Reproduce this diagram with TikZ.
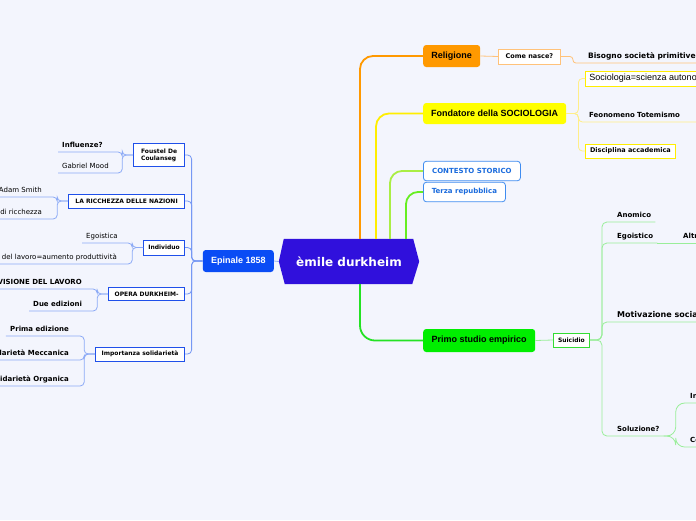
\documentclass[tikz,border=0pt]{standalone}
\usepackage{fontspec}
\setmainfont{Liberation Sans}
\newfontfamily\vfont{DejaVu Sans}
\usetikzlibrary{backgrounds}
\definecolor{bgpage}{HTML}{F3F5FD}
\definecolor{corefill}{HTML}{3010DC}
\definecolor{epiblue}{HTML}{0A4CF5}
\definecolor{boxblue}{HTML}{1F50EA}
\definecolor{lineblue}{HTML}{8CAAF6}
\definecolor{relorange}{HTML}{FF9900}
\definecolor{lineorange}{HTML}{FFC27A}
\definecolor{fondyellow}{HTML}{FFFF00}
\definecolor{trunkyellow}{HTML}{FFEE00}
\definecolor{lineyellow}{HTML}{FFEE88}
\definecolor{ctxblue}{HTML}{3F8CF0}
\definecolor{ctxtext}{HTML}{1A6BDD}
\definecolor{limegreen}{HTML}{AAEE44}
\definecolor{trunkgreen}{HTML}{66EE22}
\definecolor{primogreen}{HTML}{00EE00}
\definecolor{suigreen}{HTML}{33DD33}
\definecolor{linegreen}{HTML}{99EE99}

\begin{document}
\begin{tikzpicture}[x=1pt,y=-1pt,
  corenode/.style={minimum width=140pt,minimum height=45pt,inner sep=0pt,
    text=white,font=\vfont\bfseries\fontsize{12}{14}\selectfont},
  topic/.style={rounded corners=3pt,inner sep=2pt,font=\bfseries\fontsize{9}{10}\selectfont},
  leftbox/.style={draw=boxblue,fill=white,line width=0.8pt,inner sep=2pt,
    font=\vfont\bfseries\fontsize{6}{7}\selectfont},
  ctxbox/.style={draw=ctxblue,fill=white,rounded corners=3pt,line width=0.8pt,inner xsep=8pt,
    text=ctxtext,font=\vfont\bfseries\fontsize{7}{8}\selectfont},
  leafb/.style={inner xsep=4pt,inner ysep=2.5pt,text depth=1.5pt,
    font=\vfont\bfseries\fontsize{7}{8}\selectfont},
  leafr/.style={inner xsep=4pt,inner ysep=2.5pt,text depth=1.5pt,
    font=\vfont\fontsize{7}{8}\selectfont},
  blueline/.style={draw=lineblue,line width=0.8pt,rounded corners=4pt},
  yelline/.style={draw=lineyellow,line width=0.8pt,rounded corners=4pt},
  greenline/.style={draw=linegreen,line width=0.8pt,rounded corners=5pt},
  trunk/.style={line width=1.8pt,rounded corners=13pt}]
\useasboundingbox (0,0) rectangle (696,520);
\clip (0,0) rectangle (696,520);

% centre
\node[corenode] (durk) at (349,261.5) {èmile durkheim};
\node[topic,fill=epiblue,text=white,anchor=east,minimum width=71pt,minimum height=22pt] (epi) at (274,261) {Epinale 1858};

% left boxes
\node[leftbox,anchor=east,minimum width=51pt,minimum height=23pt,align=left] (fous) at (185,155) {Foustel De\\Coulanseg};
\node[leftbox,anchor=east,minimum width=116pt,minimum height=14pt] (ricc) at (185,201) {LA RICCHEZZA DELLE NAZIONI};
\node[leftbox,anchor=east,minimum width=41pt,minimum height=15pt] (indiv) at (185,247.5) {Individuo};
\node[leftbox,anchor=east,minimum width=76pt,minimum height=13pt] (opera) at (185,294) {OPERA DURKHEIM-};
\node[leftbox,anchor=east,minimum width=89pt,minimum height=14pt] (impo) at (185,354) {Importanza solidarietà};

% left leaves
\node[leafb,anchor=south west] (infl) at (58,152) {Influenze?};
\node[leafr,anchor=south west] (gabr) at (58,173) {Gabriel Mood};
\node[leafr,anchor=south east] (adam) at (46,197) {Adam Smith};
\node[leafr,anchor=south east] (ricz) at (46,219) {Fonte di ricchezza};
\node[leafr,anchor=south west] (egst) at (82,243) {Egoistica};
\node[leafr,anchor=south east] (prod) at (121,264) {Divisione del lavoro=aumento produttività};
\node[leafb,anchor=south east] (divl) at (86,289) {LA DIVISIONE DEL LAVORO};
\node[leafb,anchor=south west] (duee) at (29,311) {Due edizioni};
\node[leafb,anchor=south east] (prim) at (73,336) {Prima edizione};
\node[leafb,anchor=south east] (mecc) at (73,360) {Solidarietà Meccanica};
\node[leafb,anchor=south east] (orga) at (73,386) {Solidarietà Organica};

% right topics
\node[topic,fill=relorange,anchor=west,minimum width=57pt,minimum height=22pt] (relig) at (423,56) {Religione};
\node[draw=lineorange,fill=white,line width=0.9pt,anchor=west,minimum width=62pt,minimum height=15pt,inner sep=2pt,
  font=\vfont\bfseries\fontsize{6.5}{7}\selectfont] (come) at (498,56.5) {Come nasce?};
\node[leafb,font=\vfont\bfseries\fontsize{7.5}{9}\selectfont,anchor=south west] (biso) at (584,63) {Bisogno società primitive};
\node[topic,fill=fondyellow,anchor=west,minimum width=143pt,minimum height=21pt] (fond) at (423,113.5) {Fondatore della SOCIOLOGIA};
\node[draw=trunkyellow,fill=white,line width=0.9pt,anchor=west,minimum height=15pt,inner xsep=4pt,inner ysep=1pt,
  font=\fontsize{9}{10}\selectfont] (socio) at (585,78.5) {Sociologia=scienza autonoma};
\node[leafb,anchor=south west,text width=103pt,align=left] (totem) at (585,122) {Feonomeno Totemismo};
\node[draw=trunkyellow,fill=white,line width=0.9pt,anchor=west,minimum width=90pt,minimum height=14pt,inner sep=2pt,
  font=\vfont\bfseries\fontsize{6.5}{7}\selectfont] (disc) at (585,151) {Disciplina accademica};
\node[ctxbox,anchor=west,minimum width=97pt,minimum height=19.5pt] (cont) at (423,171) {CONTESTO STORICO};
\node[ctxbox,anchor=west,minimum width=82pt,minimum height=19.5pt] (terza) at (423,192) {Terza repubblica};
\node[topic,fill=primogreen,anchor=west,minimum width=112pt,minimum height=23pt] (primo) at (423,340.5) {Primo studio empirico};
\node[draw=suigreen,fill=white,line width=0.9pt,anchor=west,minimum width=36pt,minimum height=14pt,inner sep=2pt,
  font=\vfont\bfseries\fontsize{6}{7}\selectfont] (suic) at (553,340) {Suicidio};

% suicidio leaves
\node[leafb,anchor=south west] (anom) at (613,222) {Anomico};
\node[leafb,anchor=south west] (egoi) at (613,243) {Egoistico};
\node[leafb,anchor=south west] (altr) at (679,243) {Altruistico};
\node[leafb,font=\vfont\bfseries\fontsize{8}{9}\selectfont,anchor=south west,text width=90pt,align=left] (moti) at (613,322) {Motivazione sociale};
\node[leafb,anchor=south west] (solu) at (613,436) {Soluzione?};
\node[leafb,anchor=south west] (inte) at (686,403) {Integrazione};
\node[leafb,anchor=south west] (coes) at (686,447) {Coesione};

\begin{scope}[on background layer]
\fill[bgpage] (0,0) rectangle (696,520);
\fill[corefill] ([xshift=5pt]durk.north west) -- (durk.west) -- ([xshift=6pt]durk.south west)
  -- ([xshift=-7pt]durk.south east) -- (durk.east) -- ([xshift=-6pt]durk.north east) -- cycle;
\end{scope}

% left side
\draw[draw=lineblue,line width=0.8pt] (epi.east) -- (durk.west);
\foreach \c in {fous,ricc,indiv,opera,impo}
  \draw[blueline,draw=lineblue!80!boxblue] (epi.west) -- ++(-11,0) |- (\c.east);
\foreach \p/\c in {fous/infl,fous/gabr,ricc/adam,ricc/ricz,indiv/egst,indiv/prod,
  opera/divl,opera/duee,impo/prim,impo/mecc,impo/orga}
  \draw[blueline] (\p.west) -- ++(-11,0) |- (\c.south west);

% right trunks
\draw[trunk,relorange] ([xshift=11pt]durk.north) |- (relig.west);
\draw[trunk,trunkyellow] ([xshift=27pt]durk.north) |- (fond.west);
\draw[trunk,limegreen,rounded corners=12pt] ([xshift=41pt]durk.north) |- (cont.west);
\draw[trunk,trunkgreen,rounded corners=12pt] ([xshift=57pt]durk.north) |- (terza.west);
\draw[trunk,suigreen!70!primogreen,rounded corners=15pt] ([xshift=11pt]durk.south) |- (primo.west);

% right branches
\draw[draw=lineorange,line width=0.8pt] (relig.east) -- (come.west);
\draw[draw=lineorange,line width=0.8pt,rounded corners=3pt] (come.east) -- ++(12,0) |- (biso.south east);
\foreach \c in {socio,disc}
  \draw[yelline] (fond.east) -- ++(12,0) |- (\c.west);
\draw[yelline] (fond.east) -- ++(12,0) |- (totem.south east);
\draw[draw=linegreen,line width=0.8pt] (primo.east) -- (suic.west);
\foreach \c in {anom,egoi,moti,solu}
  \draw[greenline] (suic.east) -- ++(12,0) |- (\c.south east);
\draw[greenline] (egoi.south east) -- (altr.south east);
\foreach \c in {inte,coes}
  \draw[greenline,rounded corners=9pt] (solu.south east) -- ++(12,0) |- (\c.south east);
\end{tikzpicture}
\end{document}
